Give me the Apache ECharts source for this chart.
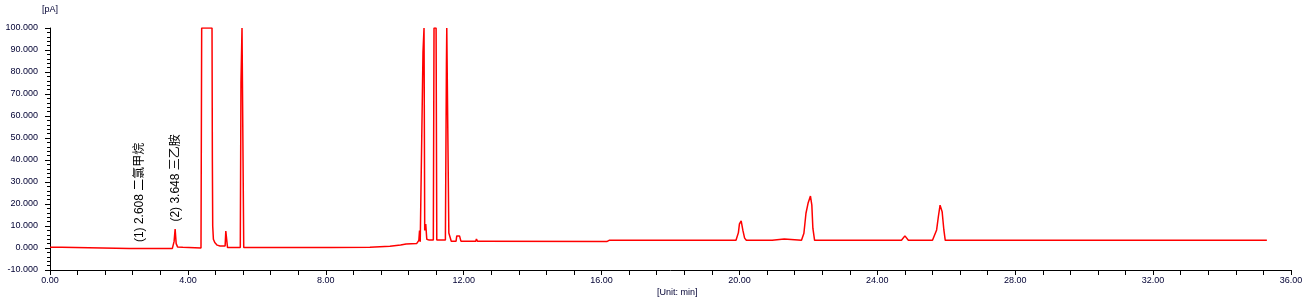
<!DOCTYPE html>
<html>
<head>
<meta charset="utf-8">
<script src="https://cdn.jsdelivr.net/npm/echarts@6/dist/echarts.min.js"></script>
<style>html,body{margin:0;padding:0;background:#fff}#c{width:1316px;height:304px}</style>
</head>
<body>
<div id="c"></div>
<script>
// Retention times (min)
var times = [0.00,0.34,0.36,2.30,2.35,2.40,3.55,3.60,3.63,3.66,3.70,3.75,3.85,3.90,
  4.38,4.40,4.70,4.71,4.72,4.74,4.78,4.85,4.93,5.08,5.10,5.13,5.15,5.52,5.54,5.57,5.60,5.62,
  8.05,8.10,8.15,9.28,9.30,9.86,9.88,10.17,10.20,10.33,10.35,10.64,10.66,10.70,10.72,10.74,10.78,
  10.82,10.85,10.87,10.90,10.93,11.00,11.12,11.14,11.20,11.22,11.47,11.50,11.51,11.56,11.57,11.62,11.64,
  11.78,11.80,11.85,11.88,11.92,12.06,12.08,12.10,12.35,12.37,12.40,12.53,12.55,12.58,
  16.15,16.22,16.27,16.35,19.90,19.97,20.00,20.05,20.10,20.15,20.20,20.95,20.97,21.30,21.32,
  21.80,21.87,21.93,21.99,22.06,22.10,22.13,22.18,24.70,24.80,24.90,
  25.60,25.72,25.77,25.82,25.88,25.93,25.97,35.30];
// Signal (pA)
var signal = [0.3,0.3,-0.2,-0.2,0.2,-0.2,-0.2,3,8.6,2,0.5,-0.1,0.3,0,
  0,100,100,40,10,4,2.5,1.3,0.9,0.9,7.7,7.7,0.2,0.2,75,100,40,0.2,
  0.2,0.8,0.2,0.3,0.8,0.8,1.4,1.4,1.7,1.8,2.1,2.1,2.7,3.5,7.9,2.8,3.5,
  89,100,8,10.9,4,3.6,3.6,100,100,3.6,3.6,84,100,100,6.8,6.8,3.1,
  3.1,5.5,4.8,5.5,3.1,3.1,3.6,3.1,3.1,4.1,3.1,3.1,3.6,2.9,
  2.9,3.5,3.1,3.5,3.5,7,11,12.3,8,4.5,3.5,3.5,4.1,4.1,3.5,
  3.5,6.7,15.8,20.3,23.6,19.5,9,3.5,3.5,5.5,3.5,
  3.5,8.2,14.2,19.5,16.5,8.2,3.5,3.5];
// Peak annotations
var annoTimes = [2.608, 3.648];
var annoBase = [2.7, 12.0];
var annoTexts = ['(1) 2.608 二氯甲烷', '(2) 3.648 三乙胺'];

var data = times.map(function(t,i){return [t, signal[i]];});
var txtColor = '#000033';
var chart = echarts.init(document.getElementById('c'));
chart.setOption({
  animation: false,
  grid: {left: 50, right: 25, top: 28, bottom: 34},
  xAxis: {
    type: 'value', min: 0, max: 36, interval: 4,
    axisLine: {onZero: false, lineStyle: {color: '#000', width: 1}},
    axisTick: {length: 5, lineStyle: {color: '#000'}},
    minorTick: {show: true, splitNumber: 5, length: 5, lineStyle: {color: '#000'}},
    splitLine: {show: false},
    axisLabel: {margin: 6, fontSize: 9, color: txtColor, fontFamily: 'Liberation Sans, Arial, sans-serif',
      showMinLabel: true, showMaxLabel: true,
      formatter: function(v){return v.toFixed(2);}}
  },
  yAxis: {
    type: 'value', min: -10, max: 100, interval: 10,
    name: '[pA]', nameLocation: 'end', nameGap: 14,
    nameTextStyle: {fontSize: 9, color: txtColor, fontFamily: 'Liberation Sans, Arial, sans-serif', align: 'center'},
    axisLine: {show: true, onZero: false, lineStyle: {color: '#000', width: 1}},
    axisTick: {show: true, length: 5, lineStyle: {color: '#000'}},
    minorTick: {show: true, splitNumber: 5, length: 3, lineStyle: {color: '#000'}},
    splitLine: {show: false},
    axisLabel: {margin: 12, fontSize: 9, color: txtColor, fontFamily: 'Liberation Sans, Arial, sans-serif',
      formatter: function(v){return v.toFixed(3);}}
  },
  series: [{
    type: 'line', data: data, showSymbol: false, clip: true,
    lineStyle: {color: '#ff0000', width: 1.5}
  }]
});
var g = [];
annoTimes.forEach(function(t,i){
  var p = chart.convertToPixel({gridIndex:0}, [t, annoBase[i]]);
  g.push({type:'text', x:p[0], y:p[1], rotation: Math.PI/2,
    style:{text: annoTexts[i], fill:'#000', fontSize: 12,
      fontFamily:'Liberation Sans, Arial, Noto Sans CJK SC, sans-serif',
      textAlign:'left', textVerticalAlign:'middle'}});
});
g.push({type:'text', left: 657, top: 288,
  style:{text:'[Unit: min]', fill: txtColor, fontSize: 9, fontFamily:'Liberation Sans, Arial, sans-serif'}});
chart.setOption({graphic: g});
</script>
</body>
</html>
